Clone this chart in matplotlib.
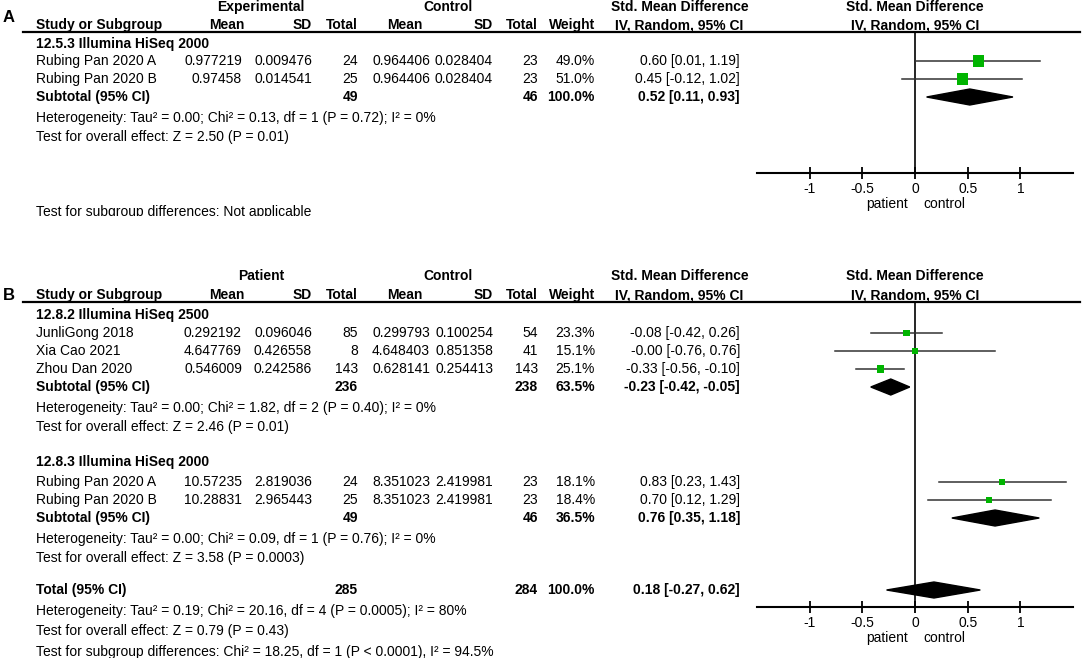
import matplotlib
matplotlib.use('Agg')
import matplotlib.pyplot as plt
from matplotlib.patches import Polygon
from matplotlib.transforms import Bbox, TransformedBbox

plt.rcParams['font.family'] = ['Liberation Sans', 'DejaVu Sans']
plt.rcParams['font.size'] = 10

W, H = 1084, 658

# ---- panel A
a_group = '12.5.3 Illumina HiSeq 2000'
a_studies = ['Rubing Pan 2020 A', 'Rubing Pan 2020 B']
a_exp_mean = ['0.977219', '0.97458']
a_exp_sd = ['0.009476', '0.014541']
a_exp_n = [24, 25]
a_ctl_mean = ['0.964406', '0.964406']
a_ctl_sd = ['0.028404', '0.028404']
a_ctl_n = [23, 23]
a_weight = [49.0, 51.0]
a_smd = [0.60, 0.45]
a_lo = [0.01, -0.12]
a_hi = [1.19, 1.02]
a_sub = dict(n_exp=49, n_ctl=46, weight=100.0, smd=0.52, lo=0.11, hi=0.93)
a_het = 'Heterogeneity: Tau\u00b2 = 0.00; Chi\u00b2 = 0.13, df = 1 (P = 0.72); I\u00b2 = 0%'
a_test = 'Test for overall effect: Z = 2.50 (P = 0.01)'
a_subgroup = 'Test for subgroup differences: Not applicable'

# ---- panel B
b_groups = ['12.8.2 Illumina HiSeq 2500', '12.8.3 Illumina HiSeq 2000']
b_studies = [['JunliGong 2018', 'Xia Cao 2021', 'Zhou Dan 2020'],
             ['Rubing Pan 2020 A', 'Rubing Pan 2020 B']]
b_exp_mean = [['0.292192', '4.647769', '0.546009'], ['10.57235', '10.28831']]
b_exp_sd = [['0.096046', '0.426558', '0.242586'], ['2.819036', '2.965443']]
b_exp_n = [[85, 8, 143], [24, 25]]
b_ctl_mean = [['0.299793', '4.648403', '0.628141'], ['8.351023', '8.351023']]
b_ctl_sd = [['0.100254', '0.851358', '0.254413'], ['2.419981', '2.419981']]
b_ctl_n = [[54, 41, 143], [23, 23]]
b_weight = [[23.3, 15.1, 25.1], [18.1, 18.4]]
b_smd = [[-0.08, -0.0, -0.33], [0.83, 0.70]]
b_lo = [[-0.42, -0.76, -0.56], [0.23, 0.12]]
b_hi = [[0.26, 0.76, -0.10], [1.43, 1.29]]
b_subs = [dict(n_exp=236, n_ctl=238, weight=63.5, smd=-0.23, lo=-0.42, hi=-0.05),
          dict(n_exp=49, n_ctl=46, weight=36.5, smd=0.76, lo=0.35, hi=1.18)]
b_hets = ['Heterogeneity: Tau\u00b2 = 0.00; Chi\u00b2 = 1.82, df = 2 (P = 0.40); I\u00b2 = 0%',
          'Heterogeneity: Tau\u00b2 = 0.00; Chi\u00b2 = 0.09, df = 1 (P = 0.76); I\u00b2 = 0%']
b_tests = ['Test for overall effect: Z = 2.46 (P = 0.01)',
           'Test for overall effect: Z = 3.58 (P = 0.0003)']
b_total = dict(n_exp=285, n_ctl=284, weight=100.0, smd=0.18, lo=-0.27, hi=0.62)
b_total_het = 'Heterogeneity: Tau\u00b2 = 0.19; Chi\u00b2 = 20.16, df = 4 (P = 0.0005); I\u00b2 = 80%'
b_total_test = 'Test for overall effect: Z = 0.79 (P = 0.43)'
b_subgroup = 'Test for subgroup differences: Chi\u00b2 = 18.25, df = 1 (P < 0.0001), I\u00b2 = 94.5%'

ticks = [-1, -0.5, 0, 0.5, 1]
tick_labels = ['-1', '-0.5', '0', '0.5', '1']

GREEN = '#00b400'
# right edges of the table columns
X_EMEAN, X_ESD, X_ETOT, X_CMEAN, X_CSD, X_CTOT, X_WT, X_CI = 242, 312, 358, 430, 493, 538, 595, 740
X_LABEL = 36
PLOT_L, PLOT_R = 757, 1073

fig = plt.figure(figsize=(W / 100, H / 100), dpi=100)
tab = fig.add_axes([0, 0, 1, 1])
tab.set_xlim(0, W)
tab.set_ylim(H, 0)
tab.axis('off')


def ci_text(smd, lo, hi):
    return '{:.2f} [{:.2f}, {:.2f}]'.format(smd, lo, hi)


def txt(x, y, s, ha='right', bold=False, size=10):
    return tab.text(x, y, s, ha=ha, va='center', fontsize=size,
                    fontweight='bold' if bold else 'normal')


def header(y_top, y_col, y_line, left_group, letter, letter_y):
    txt(261, y_top, left_group, ha='center', bold=True)
    txt(448, y_top, 'Control', ha='center', bold=True)
    txt(680, y_top, 'Std. Mean Difference', ha='center', bold=True)
    txt(915, y_top, 'Std. Mean Difference', ha='center', bold=True)
    txt(X_LABEL, y_col, 'Study or Subgroup', ha='left', bold=True)
    for s, x in [('Mean', 245), ('SD', X_ESD), ('Total', X_ETOT), ('Mean', 423),
                 ('SD', X_CSD), ('Total', X_CTOT), ('Weight', X_WT),
                 ('IV, Random, 95% CI', 743)]:
        txt(x, y_col, s, bold=True)
    txt(915, y_col, 'IV, Random, 95% CI', ha='center', bold=True)
    tab.plot([23, 1080], [y_line, y_line], color='black', lw=1.6)
    txt(3, letter_y, letter, ha='left', bold=True, size=12)


def forest_axes(y_line, y_axis):
    ax = fig.add_axes([PLOT_L / W, 1 - y_axis / H, (PLOT_R - PLOT_L) / W,
                       (y_axis - y_line) / H])
    ax.set_xlim(-1.5, 1.5)
    ax.set_ylim(y_axis, y_line)
    ax.patch.set_alpha(0)
    for side in ['top', 'left', 'right']:
        ax.spines[side].set_visible(False)
    ax.spines['bottom'].set_linewidth(1.5)
    ax.set_yticks([])
    ax.set_xticks(ticks)
    ax.set_xticklabels(tick_labels)
    ax.tick_params(axis='x', direction='inout', length=9, width=1.3, pad=2, labelsize=10)
    ax.axvline(0, color='black', lw=1.2)
    zero = PLOT_L + (PLOT_R - PLOT_L) * 0.5
    txt(zero - 7, y_axis + 31, 'patient', ha='right')
    txt(zero + 8, y_axis + 31, 'control', ha='left')
    return ax


def study_rows(ax, ys, names, em, es, en, cm, cs, cn, wt, smd, lo, hi):
    for i, y in enumerate(ys):
        txt(X_LABEL, y, names[i], ha='left')
        txt(X_EMEAN, y, em[i])
        txt(X_ESD, y, es[i])
        txt(X_ETOT, y, str(en[i]))
        txt(X_CMEAN, y, cm[i])
        txt(X_CSD, y, cs[i])
        txt(X_CTOT, y, str(cn[i]))
        txt(X_WT, y, '{:.1f}%'.format(wt[i]))
        txt(X_CI, y, ci_text(smd[i], lo[i], hi[i]))
        ax.plot([lo[i], hi[i]], [y, y], color='#333333', lw=1.1, zorder=2)
        side_px = 3 + 0.17 * wt[i]
        ax.scatter([smd[i]], [y], marker='s', s=(side_px * 0.72) ** 2,
                   color=GREEN, edgecolors='none', zorder=3)


def summary_row(ax, y, label, d):
    txt(X_LABEL, y, label, ha='left', bold=True)
    txt(X_ETOT, y, str(d['n_exp']), bold=True)
    txt(X_CTOT, y, str(d['n_ctl']), bold=True)
    txt(X_WT, y, '{:.1f}%'.format(d['weight']), bold=True)
    txt(X_CI, y, ci_text(d['smd'], d['lo'], d['hi']), bold=True)
    ax.add_patch(Polygon([[d['lo'], y], [d['smd'], y - 8], [d['hi'], y],
                          [d['smd'], y + 8]], closed=True, color='black', zorder=3))


# ---------------- panel A
header(7, 25, 32, 'Experimental', 'A', 17)
axA = forest_axes(32, 173)
txt(X_LABEL, 44, a_group, ha='left', bold=True)
study_rows(axA, [61, 79], a_studies, a_exp_mean, a_exp_sd, a_exp_n,
           a_ctl_mean, a_ctl_sd, a_ctl_n, a_weight, a_smd, a_lo, a_hi)
summary_row(axA, 97, 'Subtotal (95% CI)', a_sub)
txt(X_LABEL, 118, a_het, ha='left')
txt(X_LABEL, 137, a_test, ha='left')
# panel A's source image ends just under this line, cutting the descenders
t = txt(X_LABEL, 212, a_subgroup, ha='left')
t.set_clip_box(TransformedBbox(Bbox([[0, 0], [W, 216]]), tab.transData))
t.set_clip_on(True)

# ---------------- panel B
header(276, 295, 302, 'Patient', 'B', 296)
axB = forest_axes(302, 607)
group_y = [315, 462]
row_ys = [[333, 351, 369], [482, 500]]
sub_y = [387, 518]
for g in range(2):
    txt(X_LABEL, group_y[g], b_groups[g], ha='left', bold=True)
    study_rows(axB, row_ys[g], b_studies[g], b_exp_mean[g], b_exp_sd[g], b_exp_n[g],
               b_ctl_mean[g], b_ctl_sd[g], b_ctl_n[g], b_weight[g], b_smd[g],
               b_lo[g], b_hi[g])
    summary_row(axB, sub_y[g], 'Subtotal (95% CI)', b_subs[g])
    txt(X_LABEL, sub_y[g] + 21, b_hets[g], ha='left')
    txt(X_LABEL, sub_y[g] + 40, b_tests[g], ha='left')

summary_row(axB, 590, 'Total (95% CI)', b_total)
txt(X_LABEL, 611, b_total_het, ha='left')
txt(X_LABEL, 631, b_total_test, ha='left')
txt(X_LABEL, 652, b_subgroup, ha='left')

fig.savefig('out.png', dpi=100)
